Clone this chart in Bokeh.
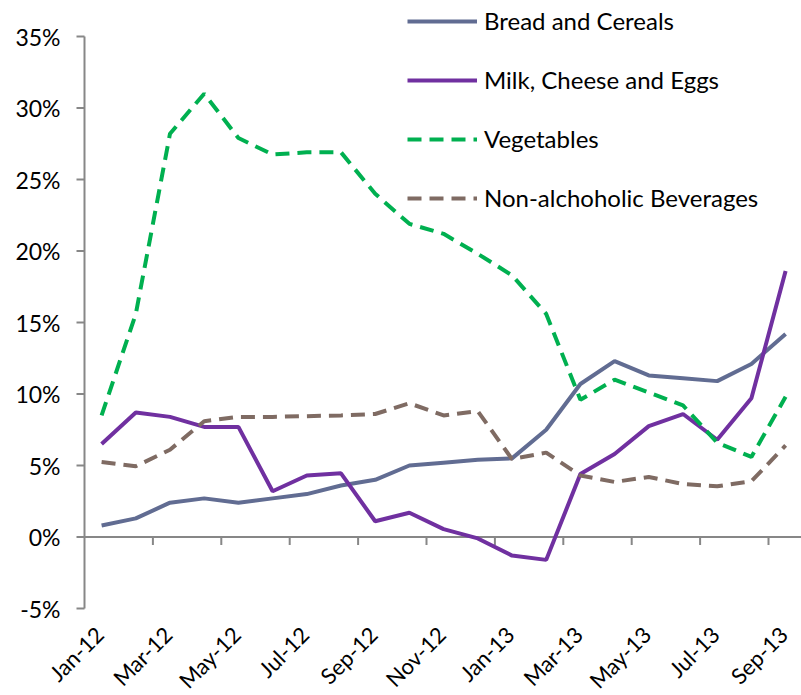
import math
from bokeh.plotting import figure
from bokeh.models import Legend, LegendItem, Range1d, ColumnDataSource
from bokeh.core.properties import value
from bokeh.embed import file_html
from bokeh.resources import INLINE

months = ["Jan-12", "Feb-12", "Mar-12", "Apr-12", "May-12", "Jun-12", "Jul-12", "Aug-12",
          "Sep-12", "Oct-12", "Nov-12", "Dec-12", "Jan-13", "Feb-13", "Mar-13", "Apr-13",
          "May-13", "Jun-13", "Jul-13", "Aug-13", "Sep-13"]
bread = [0.8, 1.3, 2.4, 2.7, 2.4, 2.7, 3.0, 3.6, 4.0, 5.0, 5.2, 5.4, 5.5, 7.5, 10.7, 12.3,
         11.3, 11.1, 10.9, 12.1, 14.2]
milk = [6.5, 8.7, 8.4, 7.7, 7.7, 3.2, 4.3, 4.45, 1.1, 1.7, 0.55, -0.1, -1.3, -1.6, 4.4, 5.8,
        7.75, 8.6, 6.8, 9.7, 18.6]
veg = [8.5, 15.6, 28.2, 31.0, 27.9, 26.75, 26.9, 26.9, 24.0, 21.9, 21.2, 19.8, 18.3, 15.6,
       9.6, 11.0, 10.1, 9.2, 6.6, 5.6, 9.8]
bev = [5.25, 4.95, 6.1, 8.1, 8.4, 8.4, 8.45, 8.5, 8.6, 9.35, 8.5, 8.8, 5.45, 5.9, 4.3, 3.85,
       4.2, 3.7, 3.55, 3.9, 6.4]
y_ticks = [-5, 0, 5, 10, 15, 20, 25, 30, 35]
y_tick_labels = ["-5%", "0%", "5%", "10%", "15%", "20%", "25%", "30%", "35%"]

FONT = "Lato"
GRAY = "#878787"
x = list(range(len(months)))
y_min, y_max = y_ticks[0], y_ticks[-1]
x_min = -0.5                      # left edge of first category (where the y axis sits)

# layout (pixels): the plotting frame covers the whole canvas so nothing is clipped
W, H = 801, 695
LEFT_PX, TOP_PX, BOTTOM_PX = 84, 36, 87
px_per_cat = 34.2
px_per_unit = (H - TOP_PX - BOTTOM_PX) / (y_max - y_min)
x_lo = x_min - LEFT_PX / px_per_cat
x_hi = x_min + (W - LEFT_PX) / px_per_cat
y_lo = y_min - BOTTOM_PX / px_per_unit
y_hi = y_max + TOP_PX / px_per_unit
TICK = 8

p = figure(width=W, height=H, output_backend="svg", toolbar_location=None,
           x_range=Range1d(x_lo, x_hi), y_range=Range1d(y_lo, y_hi), min_border=0)
p.outline_line_color = None
p.axis.visible = False
p.grid.visible = False

# y axis drawn from the tick arrays
p.segment(x0=[x_min], y0=[y_min], x1=[x_min], y1=[y_max], line_color=GRAY, line_width=2)
p.segment(x0=[x_min] * len(y_ticks), y0=y_ticks,
          x1=[x_min - TICK / px_per_cat] * len(y_ticks), y1=y_ticks,
          line_color=GRAY, line_width=2)
ysrc = ColumnDataSource(dict(x=[x_min] * len(y_ticks), y=y_ticks, text=y_tick_labels))
p.text(x="x", y="y", text="text", source=ysrc, text_align="right", text_baseline="middle",
       x_offset=-24, text_font=value(FONT), text_font_size="23px", text_color="black")

# zero line with category boundary ticks
p.segment(x0=[x_min], y0=[0], x1=[x_hi], y1=[0], line_color=GRAY, line_width=2)
bx = [i + 1.5 for i in x[:-1:2]]
p.segment(x0=bx, y0=[0] * len(bx), x1=bx, y1=[-TICK / px_per_unit] * len(bx),
          line_color=GRAY, line_width=2)

# category labels at the bottom of the plot area
lx = x[::2]
lab_src = ColumnDataSource(dict(x=lx, y=[y_min] * len(lx), text=[months[i] for i in lx]))
p.text(x="x", y="y", text="text", source=lab_src, angle=math.pi / 4,
       text_align="right", text_baseline="middle", x_offset=-2, y_offset=22,
       text_font=value(FONT), text_font_size="22px", text_color="black")

r1 = p.line(x, bread, line_color="#616C92", line_width=4)
r2 = p.line(x, milk, line_color="#7030A0", line_width=4)
r3 = p.line(x, veg, line_color="#00B050", line_width=4, line_dash="14 8")
r4 = p.line(x, bev, line_color="#7F6B63", line_width=4, line_dash="14 8")

legend = Legend(items=[LegendItem(label="Bread and Cereals", renderers=[r1]),
                       LegendItem(label="Milk, Cheese and Eggs", renderers=[r2]),
                       LegendItem(label="Vegetables", renderers=[r3]),
                       LegendItem(label="Non-alchoholic Beverages", renderers=[r4])],
                location=(407, 483), orientation="vertical")
legend.border_line_color = None
legend.background_fill_alpha = 0
legend.padding = 0
legend.margin = 0
legend.glyph_width = 70
legend.glyph_height = 20
legend.label_height = 20
legend.spacing = 30
legend.label_standoff = 7
legend.label_text_font = FONT
legend.label_text_font_size = "24px"
legend.label_text_color = "black"
p.add_layout(legend, "center")

open("out.html", "w").write(file_html(p, INLINE))
